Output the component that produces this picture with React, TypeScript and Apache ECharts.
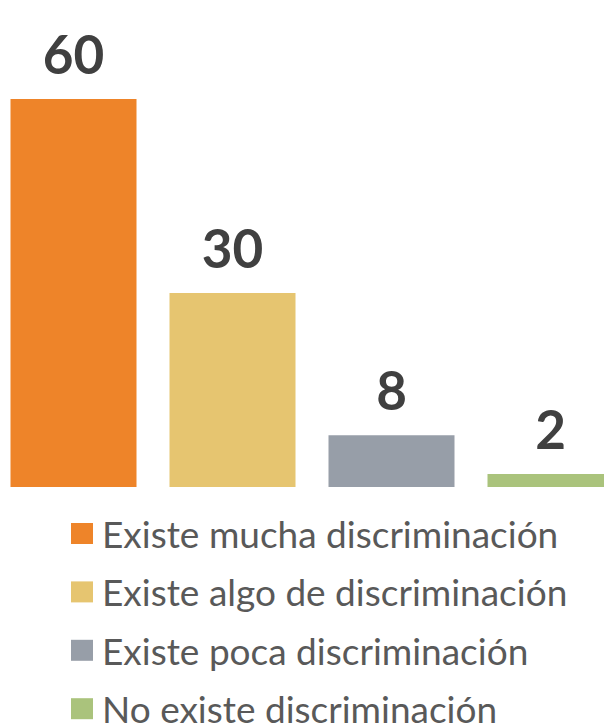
import React, { useEffect, useRef } from "react";
import * as echarts from "echarts";

const seriesNames = [
  "Existe mucha discriminación",
  "Existe algo de discriminación",
  "Existe poca discriminación",
  "No existe discriminación",
];
const seriesValues = [60, 30, 8, 2];
const seriesColors = ["#EE8429", "#E6C570", "#979EA8", "#AAC37C"];
const categories = ["mucha", "algo", "poca", "no"];

export default function App() {
  const ref = useRef<HTMLDivElement>(null);
  useEffect(() => {
    if (!ref.current) return;
    const chart = echarts.init(ref.current, null, { renderer: "svg" });
    chart.setOption({
      animation: false,
      grid: {
        left: 4,
        width: 636,
        top: 99,
        bottom: 237,
        containLabel: false,
        outerBoundsMode: "none",
      },
      xAxis: {
        type: "category",
        data: categories,
        axisLine: { show: false },
        axisTick: { show: false },
        axisLabel: { show: false },
      },
      yAxis: {
        type: "value",
        min: 0,
        max: 60,
        show: false,
        splitLine: { show: false },
      },
      legend: {
        orient: "vertical",
        left: 81,
        top: 515,
        height: 260,
        padding: 0,
        itemWidth: 22,
        itemHeight: 21,
        itemGap: 21.4,
        icon: "rect",
        data: seriesNames,
        textStyle: {
          fontFamily: "Lato",
          fontSize: 37,
          lineHeight: 34,
          color: "#595959",
          padding: [0, 0, 0, 4],
        },
      },
      series: seriesNames.map((name, i) => ({
        name,
        type: "bar",
        stack: "total",
        barWidth: 126,
        data: categories.map((_, j) => (j === i ? seriesValues[i] : null)),
        itemStyle: { color: seriesColors[i] },
        label: {
          show: true,
          position: "top",
          distance: 19,
          fontFamily: "Lato",
          fontWeight: "bold",
          fontSize: 53,
          color: "#404040",
        },
      })),
    });
    return () => chart.dispose();
  }, []);
  return (
    <div
      style={{
        position: "absolute",
        left: 0,
        top: 0,
        width: 604,
        height: 724,
        overflow: "hidden",
      }}
    >
      <div
        ref={ref}
        style={{ position: "absolute", left: -10, top: 0, width: 650, height: 724 }}
      />
    </div>
  );
}
